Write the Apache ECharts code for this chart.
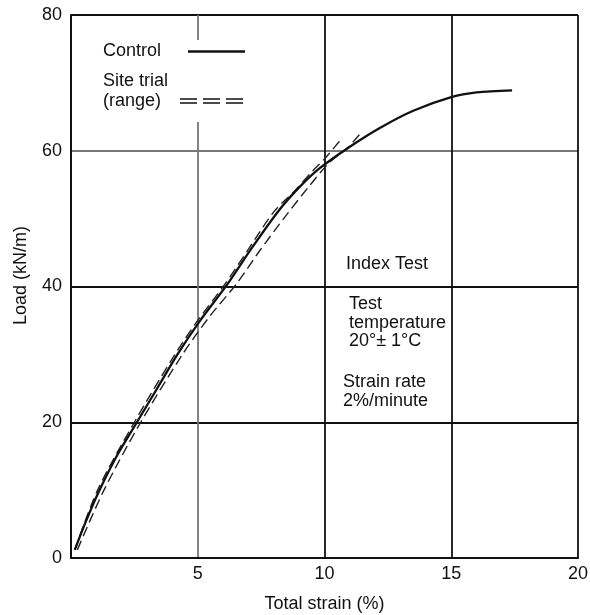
<!DOCTYPE html>
<html>
<head>
<meta charset="utf-8">
<script src="https://cdn.jsdelivr.net/npm/echarts@6/dist/echarts.min.js"></script>
<style>
html,body{margin:0;padding:0;background:#fff;}
#chart{width:590px;height:615px;}
</style>
</head>
<body>
<div id="chart"></div>
<script>
// ---- data ----
const xTicks = [0, 5, 10, 15, 20];
const yTicks = [0, 20, 40, 60, 80];

const controlStrain = [0.15, 0.6, 1.1, 1.8, 2.6, 3.4, 4.2, 5.1, 6.2, 7.1, 8.2, 9.0, 9.8, 11.0, 12.2, 13.5, 15.0, 16.0, 17.4];
const controlLoad   = [1.2, 5.5, 9.8, 15.0, 20.0, 25.0, 30.0, 35.0, 40.5, 45.5, 51.2, 54.6, 57.4, 60.6, 63.4, 65.9, 67.9, 68.6, 68.9];

const upperStrain = [0.15, 1.05, 2.5, 4.1, 5.0, 6.1, 7.0, 8.0, 8.85, 9.55, 10.0, 10.7];
const upperLoad   = [1.2, 10, 20, 30, 35, 40.5, 45.5, 51.0, 54.2, 57.1, 58.8, 61.9];

const lowerStrain = [0.25, 1.3, 2.75, 4.4, 5.45, 6.55, 7.45, 8.45, 9.4, 10.2, 10.9, 11.45];
const lowerLoad   = [1.2, 10, 20, 30, 35.5, 40.5, 45.3, 50.3, 54.8, 58.3, 60.4, 62.7];

const legendLabels = ['Control', 'Site trial', '(range)'];
const notes = ['Index Test', 'Test', 'temperature', '20°± 1°C', 'Strain rate', '2%/minute'];

const zip = (a, b) => a.map((v, i) => [v, b[i]]);
const FONT = "'Liberation Sans', Arial, Helvetica, sans-serif";
const FS = 18;
const chart = echarts.init(document.getElementById('chart'), null, {renderer: 'canvas'});

const noteStyle = {fontFamily: FONT, fontSize: FS, fill: '#111'};

chart.setOption({
  animation: false,
  backgroundColor: '#fff',
  grid: {left: 71, right: 12, top: 15, bottom: 57, containLabel: false, outerBoundsMode: 'none'},
  xAxis: {
    type: 'value', min: xTicks[0], max: xTicks[xTicks.length - 1], interval: 5,
    name: 'Total strain (%)', nameLocation: 'middle', nameGap: 37,
    nameTextStyle: {fontFamily: FONT, fontSize: FS, color: '#111'},
    axisLine: {show: true, onZero: false, lineStyle: {color: '#111', width: 2}},
    axisTick: {show: false},
    axisLabel: {
      fontFamily: FONT, fontSize: FS, color: '#111', margin: 7,
      formatter: v => (v === 0 ? '' : String(v))
    },
    splitLine: {show: true, lineStyle: {color: ['#111', '#777', '#111', '#111', '#111'], width: 1.8}}
  },
  yAxis: {
    type: 'value', min: yTicks[0], max: yTicks[yTicks.length - 1], interval: 20,
    name: 'Load (kN/m)', nameLocation: 'middle', nameGap: 41,
    nameTextStyle: {fontFamily: FONT, fontSize: FS, color: '#111', padding: [0, 0, 0, 22]},
    axisLine: {show: true, onZero: false, lineStyle: {color: '#111', width: 2}},
    axisTick: {show: false},
    axisLabel: {fontFamily: FONT, fontSize: FS, color: '#111', margin: 9},
    splitLine: {show: true, lineStyle: {color: ['#111', '#111', '#111', '#777', '#111'], width: 1.8}}
  },
  series: [
    {
      name: 'Control', type: 'line', data: zip(controlStrain, controlLoad),
      smooth: 0.3, showSymbol: false, z: 5,
      lineStyle: {color: '#111', width: 2.3}
    },
    {
      name: 'Site trial upper', type: 'line', data: zip(upperStrain, upperLoad),
      smooth: 0.3, showSymbol: false, z: 4,
      lineStyle: {color: '#222', width: 1.4, type: [10, 5]}
    },
    {
      name: 'Site trial lower', type: 'line', data: zip(lowerStrain, lowerLoad),
      smooth: 0.3, showSymbol: false, z: 4,
      lineStyle: {color: '#222', width: 1.4, type: [10, 5]}
    }
  ],
  graphic: [
    {type: 'rect', z: 50, shape: {x: 95, y: 40, width: 160, height: 82}, style: {fill: '#fff'}},
    {type: 'text', z: 51, left: 103, top: 42, style: Object.assign({text: legendLabels[0]}, noteStyle)},
    {type: 'line', z: 51, shape: {x1: 188, y1: 51.5, x2: 245, y2: 51.5}, style: {stroke: '#111', lineWidth: 2.4}},
    {type: 'text', z: 51, left: 103, top: 72, style: Object.assign({text: legendLabels[1]}, noteStyle)},
    {type: 'text', z: 51, left: 103, top: 92, style: Object.assign({text: legendLabels[2]}, noteStyle)},
    {type: 'line', z: 51, shape: {x1: 180, y1: 99, x2: 247, y2: 99}, style: {stroke: '#111', lineWidth: 1.3, lineDash: [17, 6]}},
    {type: 'line', z: 51, shape: {x1: 180, y1: 103, x2: 247, y2: 103}, style: {stroke: '#111', lineWidth: 1.3, lineDash: [17, 6]}},
    {type: 'text', z: 51, left: 346, top: 255, style: Object.assign({text: notes[0]}, noteStyle)},
    {type: 'text', z: 51, left: 349, top: 295, style: Object.assign({text: notes[1]}, noteStyle)},
    {type: 'text', z: 51, left: 349, top: 314, style: Object.assign({text: notes[2]}, noteStyle)},
    {type: 'text', z: 51, left: 349, top: 332, style: Object.assign({text: notes[3]}, noteStyle)},
    {type: 'text', z: 51, left: 343, top: 373, style: Object.assign({text: notes[4]}, noteStyle)},
    {type: 'text', z: 51, left: 343, top: 392, style: Object.assign({text: notes[5]}, noteStyle)}
  ]
});
</script>
</body>
</html>
